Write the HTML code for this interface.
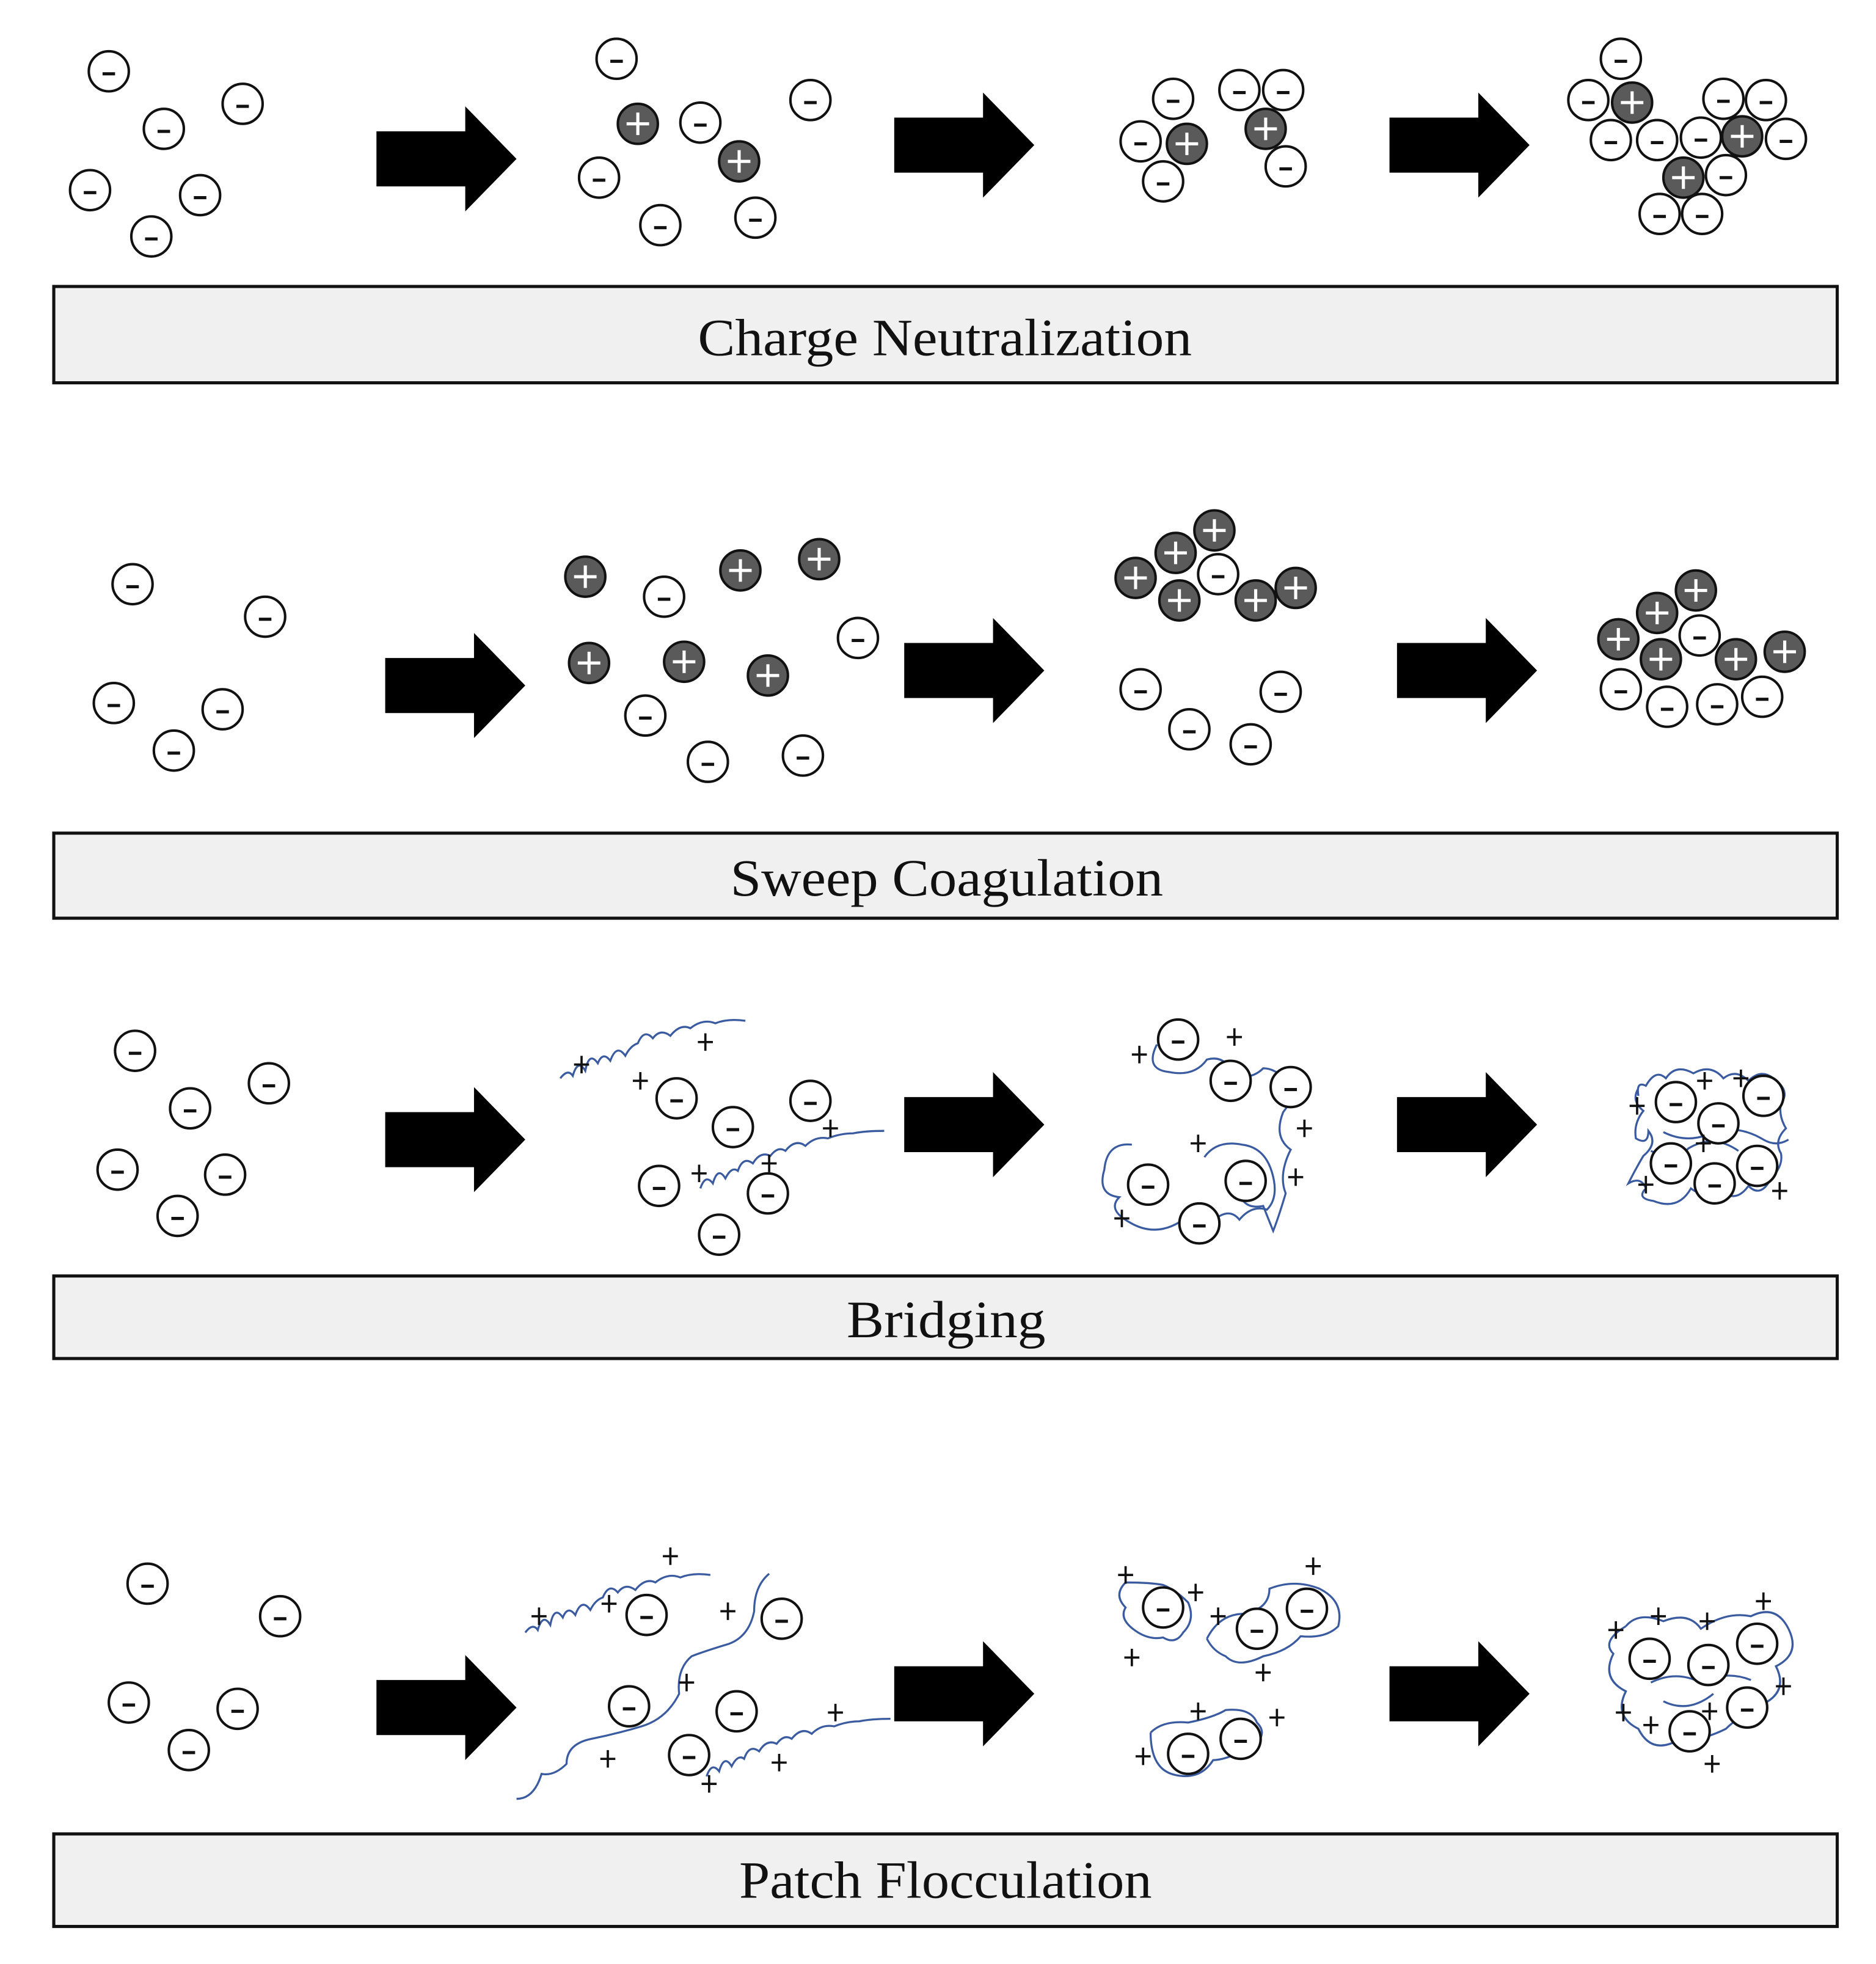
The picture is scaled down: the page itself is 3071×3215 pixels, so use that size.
<!DOCTYPE html>
<html><head><meta charset="utf-8">
<style>
html,body{margin:0;padding:0;background:#fff;}
svg{display:block;}
text{font-family:"Liberation Serif",serif;}
</style></head>
<body>
<svg width="3071" height="3215" viewBox="0 0 1500 1570" preserveAspectRatio="none" xmlns="http://www.w3.org/2000/svg">
<defs>
<g id="n"><circle r="16" fill="#fff" stroke="#111" stroke-width="2"/><line x1="-5" y1="2" x2="5" y2="2" stroke="#111" stroke-width="2.5"/></g>
<g id="p"><circle r="16" fill="#5a5a5a" stroke="#111" stroke-width="2"/><path d="M-9 0H9M0 -9V9" stroke="#fff" stroke-width="2.5"/></g>
<path id="x" d="M-6 0H6M0 -7V7" stroke="#111" stroke-width="1.8"/>
<g id="ar"><path d="M0 -22H71V-42L112 0L71 42V22H0Z" fill="#000"/></g>
</defs>

<!-- Row 1 -->
<use href="#n" x="87" y="57"/><use href="#n" x="194" y="83"/><use href="#n" x="131" y="103"/><use href="#n" x="72" y="152"/><use href="#n" x="160" y="156"/><use href="#n" x="121" y="189"/>
<use href="#ar" x="301" y="127"/>
<use href="#n" x="493" y="47"/><use href="#n" x="648" y="80"/><use href="#n" x="560" y="98"/><use href="#n" x="479" y="142"/><use href="#n" x="528" y="180"/><use href="#n" x="604" y="174"/>
<use href="#p" x="510" y="99"/><use href="#p" x="591" y="129"/>
<use href="#ar" x="715" y="116"/>
<use href="#n" x="938" y="79"/><use href="#n" x="991" y="72"/><use href="#n" x="1026" y="72"/><use href="#n" x="912" y="113"/><use href="#n" x="930" y="145"/><use href="#n" x="1028" y="133"/>
<use href="#p" x="949" y="115"/><use href="#p" x="1012" y="103"/>
<use href="#ar" x="1111" y="116"/>
<use href="#n" x="1296" y="47"/><use href="#n" x="1270" y="80"/><use href="#n" x="1378" y="79"/><use href="#n" x="1412" y="80"/><use href="#n" x="1288" y="112"/><use href="#n" x="1325" y="112"/><use href="#n" x="1360" y="110"/><use href="#n" x="1428" y="111"/><use href="#n" x="1380" y="140"/><use href="#n" x="1327" y="171"/><use href="#n" x="1361" y="171"/>
<use href="#p" x="1305" y="82"/><use href="#p" x="1393" y="109"/><use href="#p" x="1346" y="142"/>
<rect x="43" y="229" width="1426" height="77" fill="#f0f0f0" stroke="#111" stroke-width="2.5"/>
<text x="558" y="284" font-size="42" textLength="395" lengthAdjust="spacingAndGlyphs" fill="#111">Charge Neutralization</text>

<!-- Row 2 -->
<use href="#n" x="106" y="467"/><use href="#n" x="212" y="493"/><use href="#n" x="91" y="562"/><use href="#n" x="178" y="567"/><use href="#n" x="139" y="600"/>
<use href="#ar" x="308" y="548"/>
<use href="#p" x="468" y="461"/><use href="#p" x="592" y="456"/><use href="#p" x="655" y="447"/><use href="#p" x="471" y="530"/><use href="#p" x="547" y="529"/><use href="#p" x="614" y="540"/>
<use href="#n" x="531" y="477"/><use href="#n" x="686" y="510"/><use href="#n" x="516" y="572"/><use href="#n" x="566" y="609"/><use href="#n" x="642" y="604"/>
<use href="#ar" x="723" y="536"/>
<use href="#p" x="971" y="424"/><use href="#p" x="908" y="462"/><use href="#n" x="974" y="459"/><use href="#p" x="940" y="442"/><use href="#p" x="943" y="480"/><use href="#p" x="1036" y="470"/><use href="#p" x="1004" y="480"/>
<use href="#n" x="912" y="551"/><use href="#n" x="1024" y="553"/><use href="#n" x="951" y="583"/><use href="#n" x="1000" y="595"/>
<use href="#ar" x="1117" y="536"/>
<use href="#n" x="1296" y="551"/><use href="#n" x="1333" y="565"/><use href="#n" x="1373" y="563"/><use href="#n" x="1409" y="557"/>
<use href="#p" x="1356" y="472"/><use href="#p" x="1294" y="511"/><use href="#n" x="1359" y="508"/><use href="#p" x="1325" y="490"/><use href="#p" x="1328" y="527"/><use href="#p" x="1427" y="521"/><use href="#p" x="1388" y="527"/>
<rect x="43" y="666" width="1426" height="68" fill="#f0f0f0" stroke="#111" stroke-width="2.5"/>
<text x="584" y="716" font-size="42" textLength="346" lengthAdjust="spacingAndGlyphs" fill="#111">Sweep Coagulation</text>

<!-- Row 3 -->
<use href="#n" x="108" y="840"/><use href="#n" x="215" y="866"/><use href="#n" x="152" y="886"/><use href="#n" x="94" y="935"/><use href="#n" x="180" y="939"/><use href="#n" x="142" y="972"/>
<use href="#ar" x="308" y="911"/>
<g fill="none" stroke="#3a5ba0" stroke-width="1.6">
<path d="M448 862 q6 -8 10 -2 q4 -14 10 -4 q3 -16 10 -6 q4 -10 10 -2 q5 -14 12 -4 q4 -8 10 -10 q5 -12 12 -4 q6 -8 14 -2 q8 -10 16 -6 q10 -8 20 -4 q10 -4 24 -2"/>
<path d="M560 950 q4 -12 10 -4 q4 -14 10 -4 q5 -10 10 -6 q4 -12 12 -6 q6 -10 14 -6 q6 -8 12 -4 q8 -10 16 -4 q8 -8 18 -6 q10 -4 20 -4 q10 -2 25 -2"/>
<path d="M925 835 q-10 20 10 22 q20 4 30 -10 q15 -4 20 12 q15 5 25 -5 q10 0 18 10 q10 10 -2 25 q-8 20 6 30 q-10 20 -4 35 q-6 20 -10 30 q-4 -10 -8 -20 q-20 4 -20 -20"/>
<path d="M905 915 q-20 -2 -22 20 q-6 20 12 22 q-10 10 8 20 q20 12 40 0 q10 -12 28 -2 q12 -10 20 0 q10 -12 22 -8 q10 -10 4 -30 q-6 -20 -24 -22 q-20 -4 -30 10"/>
<path d="M1310 870 q-6 10 4 18 q-8 10 -6 22 q10 6 10 -6 q8 10 -4 20 q-6 10 -12 22 q10 -6 14 4 q-8 8 6 10 q20 8 30 -10 q10 8 24 2 q12 10 22 -4 q10 10 18 -6 q10 -10 8 -20 q-6 -10 4 -20 q-6 -10 -4 -20 q8 -10 -6 -20 q-10 -8 -20 2 q-10 -10 -20 -2 q-10 -12 -24 -4 q-14 -8 -22 4 q-8 -8 -16 6 q-8 -4 -6 8"/>
<path d="M1330 905 q20 10 40 0 q20 -6 40 6 q10 6 20 0 M1320 920 q20 10 30 -2 q20 -12 40 2"/>
</g>
<use href="#n" x="541" y="878"/><use href="#n" x="648" y="880"/><use href="#n" x="586" y="901"/><use href="#n" x="527" y="948"/><use href="#n" x="614" y="954"/><use href="#n" x="575" y="987"/>
<use href="#x" x="465" y="851"/><use href="#x" x="512" y="864"/><use href="#x" x="564" y="833"/><use href="#x" x="664" y="902"/><use href="#x" x="559" y="938"/><use href="#x" x="615" y="930"/>
<use href="#ar" x="723" y="899"/>
<use href="#n" x="942" y="831"/><use href="#n" x="984" y="864"/><use href="#n" x="1032" y="869"/><use href="#n" x="918" y="947"/><use href="#n" x="996" y="944"/><use href="#n" x="959" y="978"/>
<use href="#x" x="911" y="843"/><use href="#x" x="987" y="829"/><use href="#x" x="1043" y="902"/><use href="#x" x="958" y="914"/><use href="#x" x="1036" y="941"/><use href="#x" x="897" y="974"/>
<use href="#ar" x="1117" y="899"/>
<use href="#n" x="1340" y="881"/><use href="#n" x="1410" y="876"/><use href="#n" x="1374" y="898"/><use href="#n" x="1336" y="930"/><use href="#n" x="1405" y="932"/><use href="#n" x="1371" y="946"/>
<use href="#x" x="1309" y="884"/><use href="#x" x="1363" y="864"/><use href="#x" x="1392" y="862"/><use href="#x" x="1316" y="947"/><use href="#x" x="1423" y="952"/><use href="#x" x="1362" y="914"/>
<rect x="43" y="1020" width="1426" height="66" fill="#f0f0f0" stroke="#111" stroke-width="2.5"/>
<text x="677" y="1069" font-size="42" textLength="159" lengthAdjust="spacingAndGlyphs" fill="#111">Bridging</text>

<!-- Row 4 -->
<use href="#n" x="118" y="1266"/><use href="#n" x="224" y="1292"/><use href="#n" x="103" y="1361"/><use href="#n" x="190" y="1366"/><use href="#n" x="151" y="1399"/>
<use href="#ar" x="301" y="1365"/>
<g fill="none" stroke="#3a5ba0" stroke-width="1.6">
<path d="M420 1305 q6 -8 10 -2 q4 -14 10 -4 q3 -16 10 -6 q4 -10 10 -2 q5 -14 12 -4 q4 -8 10 -10 q5 -12 12 -4 q6 -8 14 -2 q8 -10 16 -6 q10 -8 20 -4 q10 -4 24 -2"/>
<path d="M615 1258 q-12 10 -12 30 q-4 20 -20 26 q-20 6 -30 10 q-12 10 -10 30 q-10 20 -30 26 q-20 6 -40 10 q-20 4 -20 20 q-10 10 -20 8 q-6 20 -20 20"/>
<path d="M565 1420 q4 -12 10 -4 q4 -14 10 -4 q5 -10 10 -6 q4 -12 12 -6 q6 -10 14 -6 q6 -8 12 -4 q8 -10 16 -4 q8 -8 18 -6 q10 -4 20 -4 q10 -2 25 -2"/>
<path d="M900 1265 q-10 10 0 20 q-6 10 10 20 q10 6 20 4 q10 6 16 -4 q10 -10 4 -24 q-10 -10 -20 -14 q-10 -2 -30 -2"/>
<path d="M965 1310 q10 -20 30 -20 q20 -4 20 -20 q20 -8 40 0 q20 10 15 30 q-10 10 -30 8 q-10 12 -30 16 q-20 10 -30 0 q-10 -4 -15 -14"/>
<path d="M920 1385 q10 -10 30 -8 q20 -4 30 -10 q20 -2 25 10 q10 10 -5 20 q-20 10 -30 10 q-10 16 -30 12 q-20 -4 -20 -34"/>
<path d="M1300 1300 q10 -12 30 -4 q20 -8 30 6 q20 -14 40 -10 q20 -10 30 10 q10 20 -10 30 q10 20 -10 30 q-20 10 -30 20 q-20 10 -40 10 q-20 10 -30 -10 q-20 -10 -10 -30 q-20 -10 -10 -30 q-10 -10 10 -22"/>
<path d="M1320 1345 q20 -10 40 0 q20 -10 40 -2 M1330 1360 q20 10 40 -6"/>
</g>
<use href="#n" x="517" y="1291"/><use href="#n" x="625" y="1294"/><use href="#n" x="503" y="1364"/><use href="#n" x="589" y="1368"/><use href="#n" x="551" y="1403"/>
<use href="#x" x="431" y="1292"/><use href="#x" x="487" y="1282"/><use href="#x" x="536" y="1244"/><use href="#x" x="582" y="1288"/><use href="#x" x="549" y="1345"/><use href="#x" x="668" y="1369"/><use href="#x" x="486" y="1406"/><use href="#x" x="567" y="1426"/><use href="#x" x="623" y="1409"/>
<use href="#ar" x="715" y="1354"/>
<use href="#n" x="930" y="1285"/><use href="#n" x="1005" y="1302"/><use href="#n" x="1045" y="1286"/><use href="#n" x="950" y="1402"/><use href="#n" x="992" y="1390"/>
<use href="#x" x="900" y="1259"/><use href="#x" x="956" y="1273"/><use href="#x" x="1050" y="1252"/><use href="#x" x="974" y="1292"/><use href="#x" x="905" y="1325"/><use href="#x" x="1010" y="1337"/><use href="#x" x="958" y="1368"/><use href="#x" x="1021" y="1373"/><use href="#x" x="914" y="1404"/>
<use href="#ar" x="1111" y="1354"/>
<use href="#n" x="1319" y="1326"/><use href="#n" x="1366" y="1331"/><use href="#n" x="1405" y="1314"/><use href="#n" x="1397" y="1365"/><use href="#n" x="1351" y="1384"/>
<use href="#x" x="1292" y="1303"/><use href="#x" x="1326" y="1292"/><use href="#x" x="1365" y="1296"/><use href="#x" x="1410" y="1280"/><use href="#x" x="1426" y="1348"/><use href="#x" x="1298" y="1369"/><use href="#x" x="1320" y="1379"/><use href="#x" x="1367" y="1368"/><use href="#x" x="1369" y="1410"/>
<rect x="43" y="1466" width="1426" height="74" fill="#f0f0f0" stroke="#111" stroke-width="2.5"/>
<text x="591" y="1517" font-size="42" textLength="330" lengthAdjust="spacingAndGlyphs" fill="#111">Patch Flocculation</text>
</svg>
</body></html>
